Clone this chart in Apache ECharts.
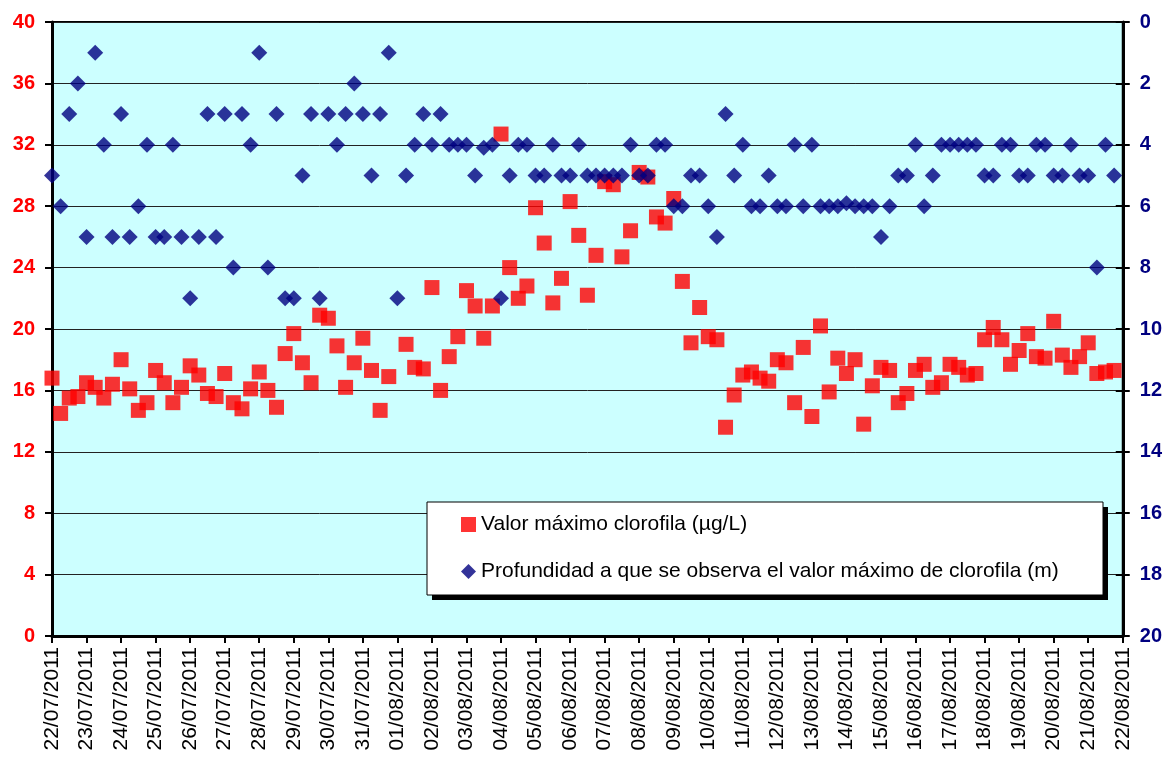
<!DOCTYPE html>
<html>
<head>
<meta charset="utf-8">
<script src="https://cdn.jsdelivr.net/npm/echarts@6/dist/echarts.min.js"></script>
<style>
html,body{margin:0;padding:0;background:#fff;}
#chart{width:1165px;height:758px;}
</style>
</head>
<body>
<div id="chart"></div>
<script>
// Day labels (x axis ticks) and sampling hours (4 samples per day)
const dayLabels = ['22/07/2011','23/07/2011','24/07/2011','25/07/2011','26/07/2011','27/07/2011','28/07/2011','29/07/2011','30/07/2011','31/07/2011','01/08/2011','02/08/2011','03/08/2011','04/08/2011','05/08/2011','06/08/2011','07/08/2011','08/08/2011','09/08/2011','10/08/2011','11/08/2011','12/08/2011','13/08/2011','14/08/2011','15/08/2011','16/08/2011','17/08/2011','18/08/2011','19/08/2011','20/08/2011','21/08/2011','22/08/2011'];
const hourLabels = ['00:00','06:00','12:00','18:00'];

// Valor máximo clorofila (µg/L)
const chlorophyll = [
16.8,14.5,15.5,15.6,16.5,16.2,15.5,16.4,18.0,16.1,
14.7,15.2,17.3,16.5,15.2,16.2,17.6,17.0,15.8,15.6,
17.1,15.2,14.8,16.1,17.2,16.0,14.9,18.4,19.7,17.8,
16.5,20.9,20.7,18.9,16.2,17.8,19.4,17.3,14.7,16.9,
null,19.0,17.5,17.4,22.7,16.0,18.2,19.5,22.5,21.5,
19.4,21.5,32.7,24.0,22.0,22.8,27.9,25.6,21.7,23.3,
28.3,26.1,22.2,24.8,29.6,29.4,24.7,26.4,30.2,29.9,
27.3,26.9,28.5,23.1,19.1,21.4,19.5,19.3,13.6,15.7,
17.0,17.2,16.8,16.6,18.0,17.8,15.2,18.8,14.3,20.2,
15.9,18.1,17.1,18.0,13.8,16.3,17.5,17.3,15.2,15.8,
17.3,17.7,16.2,16.5,17.7,17.5,17.0,17.1,19.3,20.1,
19.3,17.7,18.6,19.7,18.2,18.1,20.5,18.3,17.5,18.2,
19.1,17.1,17.2,17.3
];

// Profundidad a que se observa el valor máximo de clorofila (m)
const depth = [
5,6,3,2,7,1,4,7,3,7,
6,4,7,7,4,7,9,7,3,7,
3,8,3,4,1,8,3,9,9,5,
3,9,3,4,3,2,3,5,3,1,
9,5,4,3,4,3,4,4,4,5,
4.1,4,9,5,4,4,5,5,4,5,
5,4,5,5,5,5,5,4,5,5,
4,4,6,6,5,5,6,7,3,5,
4,6,6,5,6,6,4,6,4,6,
6,6,5.9,6,6,6,7,6,5,5,
4,6,5,4,4,4,4,4,5,5,
4,4,5,5,4,4,5,5,4,5,
5,8,4,5
];

const leftTicks = {min:0, max:40, interval:4};
const rightTicks = {min:0, max:20, interval:2};

const seriesNames = ['Valor máximo clorofila (µg/L)', 'Profundidad a que se observa el valor máximo de clorofila (m)'];

// category list: every 6 hours from first to last day 00:00
const categories = [];
dayLabels.forEach(function(d, di){
  hourLabels.forEach(function(h, hi){
    if (di < dayLabels.length - 1 || hi === 0) categories.push(d + ' ' + h);
  });
});

const FONT = '"Liberation Sans", Arial, sans-serif';
const chart = echarts.init(document.getElementById('chart'), null, {renderer:'canvas'});

const option = {
  animation: false,
  backgroundColor: '#ffffff',
  grid: {
    left: 52, right: 41, top: 22, bottom: 122,
    show: true, backgroundColor: '#CCFFFF', borderColor: '#000', borderWidth: 2
  },
  xAxis: {
    type: 'category',
    data: categories,
    boundaryGap: false,
    axisLine: {lineStyle: {color: '#000', width: 3}},
    axisTick: {interval: function(i){ return i % 4 === 0; }, length: 7, lineStyle: {color: '#000', width: 2}},
    axisLabel: {
      interval: function(i){ return i % 4 === 0; },
      rotate: 90, margin: 11,
      fontFamily: FONT, fontSize: 21, color: '#000',
      formatter: function(v){ return v.split(' ')[0]; }
    },
    splitLine: {show: false}
  },
  yAxis: [
    {
      type: 'value', position: 'left',
      min: leftTicks.min, max: leftTicks.max, interval: leftTicks.interval,
      axisLine: {show: true, lineStyle: {color: '#000', width: 3}},
      axisTick: {show: true, length: 7, lineStyle: {color: '#000', width: 2}},
      axisLabel: {margin: 17, fontFamily: FONT, fontSize: 20, fontWeight: 'bold', color: '#FF0000'},
      splitLine: {show: true, lineStyle: {color: '#222', width: 1}}
    },
    {
      type: 'value', position: 'right', inverse: true,
      min: rightTicks.min, max: rightTicks.max, interval: rightTicks.interval,
      axisLine: {show: true, lineStyle: {color: '#000', width: 3}},
      axisTick: {show: true, length: 7, lineStyle: {color: '#000', width: 2}},
      axisLabel: {margin: 17, fontFamily: FONT, fontSize: 20, fontWeight: 'bold', color: '#000080'},
      splitLine: {show: false}
    },
    {
      type: 'value', position: 'right', inverse: true,
      min: rightTicks.min, max: rightTicks.max, interval: rightTicks.interval,
      axisLine: {show: false},
      axisTick: {show: true, inside: true, length: 7, lineStyle: {color: '#000', width: 2}},
      axisLabel: {show: false},
      splitLine: {show: false}
    }
  ],
  legend: {
    orient: 'vertical',
    left: 461, top: 514,
    padding: 0,
    itemGap: 26,
    itemWidth: 15, itemHeight: 15,
    z: 100,
    textStyle: {fontFamily: FONT, fontSize: 21, lineHeight: 21, color: '#000'},
    data: [
      {name: seriesNames[0], icon: 'rect'},
      {name: seriesNames[1], icon: 'diamond'}
    ]
  },
  graphic: [
    {
      type: 'rect', z: 49,
      shape: {x: 432, y: 507, width: 676, height: 93},
      style: {fill: '#000', stroke: null}
    },
    {
      type: 'rect', z: 50,
      shape: {x: 427, y: 502, width: 676, height: 93},
      style: {fill: '#fff', stroke: '#000', lineWidth: 1}
    }
  ],
  series: [
    {
      name: seriesNames[0], type: 'scatter', yAxisIndex: 0,
      symbol: 'rect', symbolSize: 15, z: 2,
      itemStyle: {color: '#FF0000'},
      data: chlorophyll
    },
    {
      name: seriesNames[1], type: 'scatter', yAxisIndex: 1,
      symbol: 'diamond', symbolSize: 16, z: 3,
      itemStyle: {color: '#000080'},
      data: depth
    }
  ]
};
chart.setOption(option);
</script>
</body>
</html>
